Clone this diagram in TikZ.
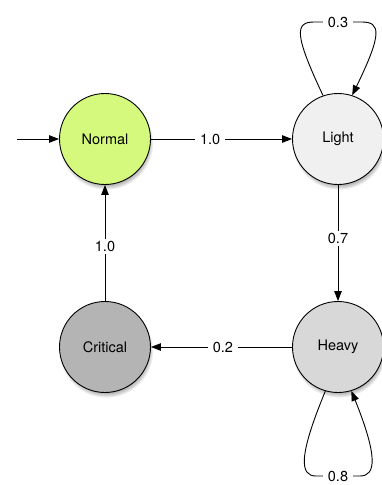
\documentclass[tikz,border=0pt]{standalone}
\usepackage{fontspec}
\setmainfont{TeX Gyre Heros}
\usetikzlibrary{arrows.meta}
\definecolor{cnormal}{HTML}{D5F97D}
\definecolor{clight}{HTML}{F0F0F0}
\definecolor{cheavy}{HTML}{D8D8D8}
\definecolor{ccrit}{HTML}{B4B4B4}
\begin{document}
\begin{tikzpicture}[x=1pt,y=-1pt,
  state/.style={circle,draw=black,line width=0.9pt,minimum size=91pt,inner sep=0pt,font=\fontsize{14.5}{16}\selectfont},
  arr/.style={line width=0.9pt,-{Triangle[length=10pt,width=7.5pt]}},
  lbl/.style={fill=white,inner xsep=5pt,inner ysep=2pt,font=\fontsize{14.5}{16}\selectfont}]
\useasboundingbox (0,0) rectangle (381,485);
% shadows
\foreach \px/\py in {105/139,338/139,105/347,338/347}{
  \foreach \k in {0,...,6}{
    \fill[black,opacity=0.07] (\px+1.5,\py+4) circle ({40pt+\k*1.1pt});
  }
}
\node[state,fill=cnormal] (N) at (105,139) {Normal};
\node[state,fill=clight] (L) at (338,139) {Light};
\node[state,fill=ccrit] (C) at (105,347) {Critical};
\node[state,fill=cheavy] (H) at (338,347) {Heavy};
\coordinate (start) at (17,139);
\draw[arr] (start) -- (N);
\draw[arr] (N) -- node[lbl,pos=0.42]{1.0} (L);
\draw[arr] (L) -- node[lbl,pos=0.46]{0.7} (H);
\draw[arr] (H) -- node[lbl,pos=0.49]{0.2} (C);
\draw[arr] (C) -- node[lbl,pos=0.47]{1.0} (N);
% self loops
\draw[arr] (L.109) .. controls (294,34) and (295,22) .. (314,22) -- node[lbl]{0.3} (362,22) .. controls (381,22) and (382,34) .. (L.72);
\draw[arr] (H.-106) .. controls (298,457) and (300,476) .. (316,476) -- node[lbl]{0.8} (360,476) .. controls (376,476) and (378,457) .. (H.-73);
\end{tikzpicture}
\end{document}
